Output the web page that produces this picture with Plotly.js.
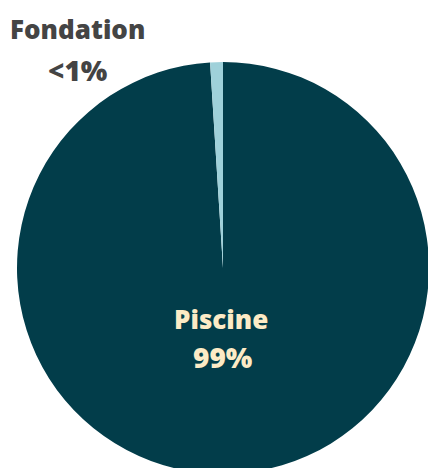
<!DOCTYPE html>
<html>
<head>
<meta charset="utf-8">
<script src="https://cdn.plot.ly/plotly-3.0.1.min.js"></script>
<style>
html,body{margin:0;padding:0;overflow:hidden;background:#fff;}
#chart{width:430px;height:480px;}
</style>
</head>
<body>
<div id="chart"></div>
<script>
const labels = ["Piscine", "Fondation"];
const values = [99, 1];
const pctText = ["99%", "<1%"];
const colors = ["#023d4a", "#9fd1da"];

const trace = {
  type: "pie",
  labels: labels,
  values: values,
  sort: false,
  direction: "clockwise",
  rotation: 0,
  marker: {colors: colors, line: {width: 0}},
  textinfo: "none",
  hoverinfo: "label+percent",
  showlegend: false
};

const annotations = [
  {text: labels[1], x: 0.148, y: 1.081, color: "#444444", size: 26},
  {text: pctText[1], x: 0.149, y: 0.981, color: "#444444", size: 28},
  {text: labels[0], x: 0.495, y: 0.377, color: "#fcebc6", size: 26},
  {text: pctText[0], x: 0.501, y: 0.285, color: "#fcebc6", size: 28}
].map(a => ({
  text: a.text, x: a.x, y: a.y, xref: "paper", yref: "paper",
  xanchor: "center", yanchor: "middle", showarrow: false,
  font: {family: "Open Sans, sans-serif", size: a.size, weight: 800, color: a.color}
}));

const layout = {
  width: 430, height: 480,
  margin: {l: 17, r: 1, t: 62, b: 6},
  paper_bgcolor: "#ffffff",
  annotations: annotations
};

Plotly.newPlot("chart", [trace], layout, {displayModeBar: false, staticPlot: true});
</script>
</body>
</html>
